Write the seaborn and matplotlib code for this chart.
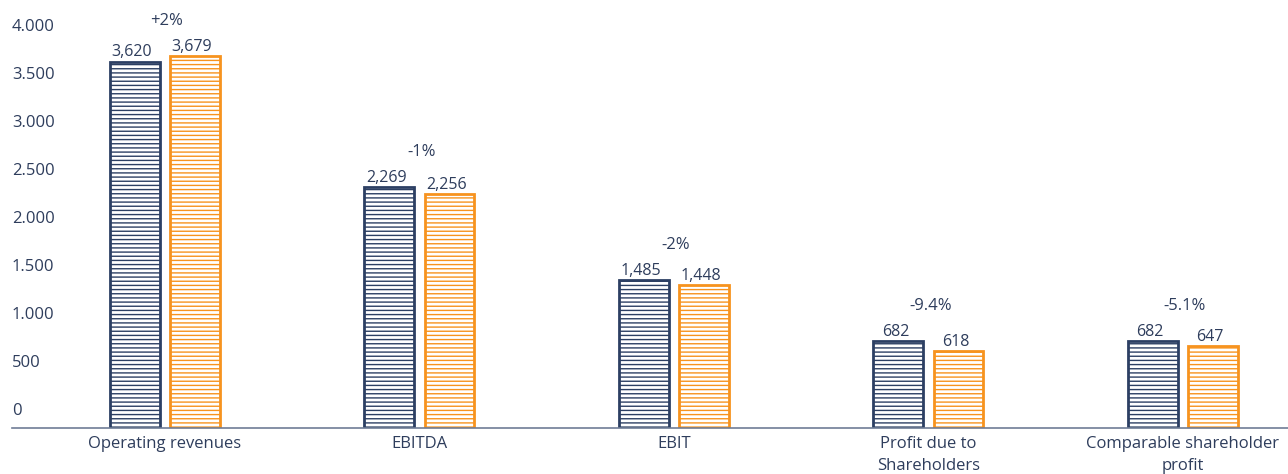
import matplotlib
matplotlib.use("Agg")
import matplotlib.pyplot as plt
import seaborn as sns
import pandas as pd

# ---- data ----
categories = ["Operating revenues", "EBITDA", "EBIT",
              "Profit due to\nShareholders", "Comparable shareholder\nprofit"]
series = ["Previous year", "Current year"]
# bar heights as drawn in the picture
bars_prev = [3620, 2312, 1346, 710, 710]
bars_curr = [3679, 2241, 1294, 606, 658]
# printed value labels
labels_prev = ["3,620", "2,269", "1,485", "682", "682"]
labels_curr = ["3,679", "2,256", "1,448", "618", "647"]
changes = ["+2%", "-1%", "-2%", "-9.4%", "-5.1%"]
yticks = [0, 500, 1000, 1500, 2000, 2500, 3000, 3500, 4000]
ytick_labels = ["0", "500", "1.000", "1.500", "2.000", "2.500", "3.000", "3.500", "4.000"]

NAVY = "#2c3f63"
ORANGE = "#f7931e"
TEXT = "#2e3d5c"
AXIS = "#6f7d96"

sns.set_theme(style="white")
plt.rcParams["font.family"] = ["Open Sans", "DejaVu Sans"]
plt.rcParams["hatch.linewidth"] = 1.0

df = pd.DataFrame({
    "category": categories * 2,
    "series": [series[0]] * len(categories) + [series[1]] * len(categories),
    "value": bars_prev + bars_curr,
})

W, H = 1288, 474
fig = plt.figure(figsize=(W / 100, H / 100), dpi=100)
ax = fig.add_axes([12 / W, (H - 428) / H, (W - 12) / W, 428 / H])

sns.barplot(data=df, x="category", y="value", hue="series", order=categories,
            hue_order=series, palette=[NAVY, ORANGE], width=0.472, gap=0.17,
            errorbar=None, legend=False, ax=ax)

ymin, ymax = -193, 4262
ax.set_ylim(ymin, ymax)
ax.set_xlim(-0.601, 4.413)

colors = [NAVY, ORANGE]
all_labels = [labels_prev, labels_curr]
for ci, cont in enumerate(ax.containers):
    for bi, patch in enumerate(cont.patches):
        h = patch.get_height()
        patch.set_y(ymin)
        patch.set_height(h - ymin)
        patch.set_facecolor("white")
        patch.set_edgecolor(colors[ci])
        patch.set_linewidth(2.0)
        patch.set_hatch("----")
        cx = patch.get_x() + patch.get_width() / 2
        ax.annotate(all_labels[ci][bi], (cx, h), xytext=(-3, 5.5),
                    textcoords="offset pixels", ha="center", va="baseline",
                    fontsize=11.5, color=TEXT)

for i, ch in enumerate(changes):
    top = max(bars_prev[i], bars_curr[i])
    ax.annotate(ch, (i, top), xytext=(2, 31), textcoords="offset pixels",
                ha="center", va="baseline", fontsize=12, color=TEXT)

ax.set_xlabel("")
ax.set_ylabel("")
ax.set_yticks(yticks)
ax.set_yticklabels(ytick_labels)
for t in ax.get_yticklabels():
    t.set_horizontalalignment("left")
ax.tick_params(axis="y", length=0, pad=0, labelsize=12, labelcolor=TEXT)
ax.tick_params(axis="x", length=0, pad=6, labelsize=12, labelcolor=TEXT)
for t in ax.get_xticklabels():
    t.set_linespacing(1.45)

for s in ["top", "left", "right"]:
    ax.spines[s].set_visible(False)
ax.spines["bottom"].set_color(AXIS)
ax.spines["bottom"].set_linewidth(1.2)
ax.grid(False)
ax.set_facecolor("white")

fig.savefig("out.png", dpi=100, facecolor="white")
